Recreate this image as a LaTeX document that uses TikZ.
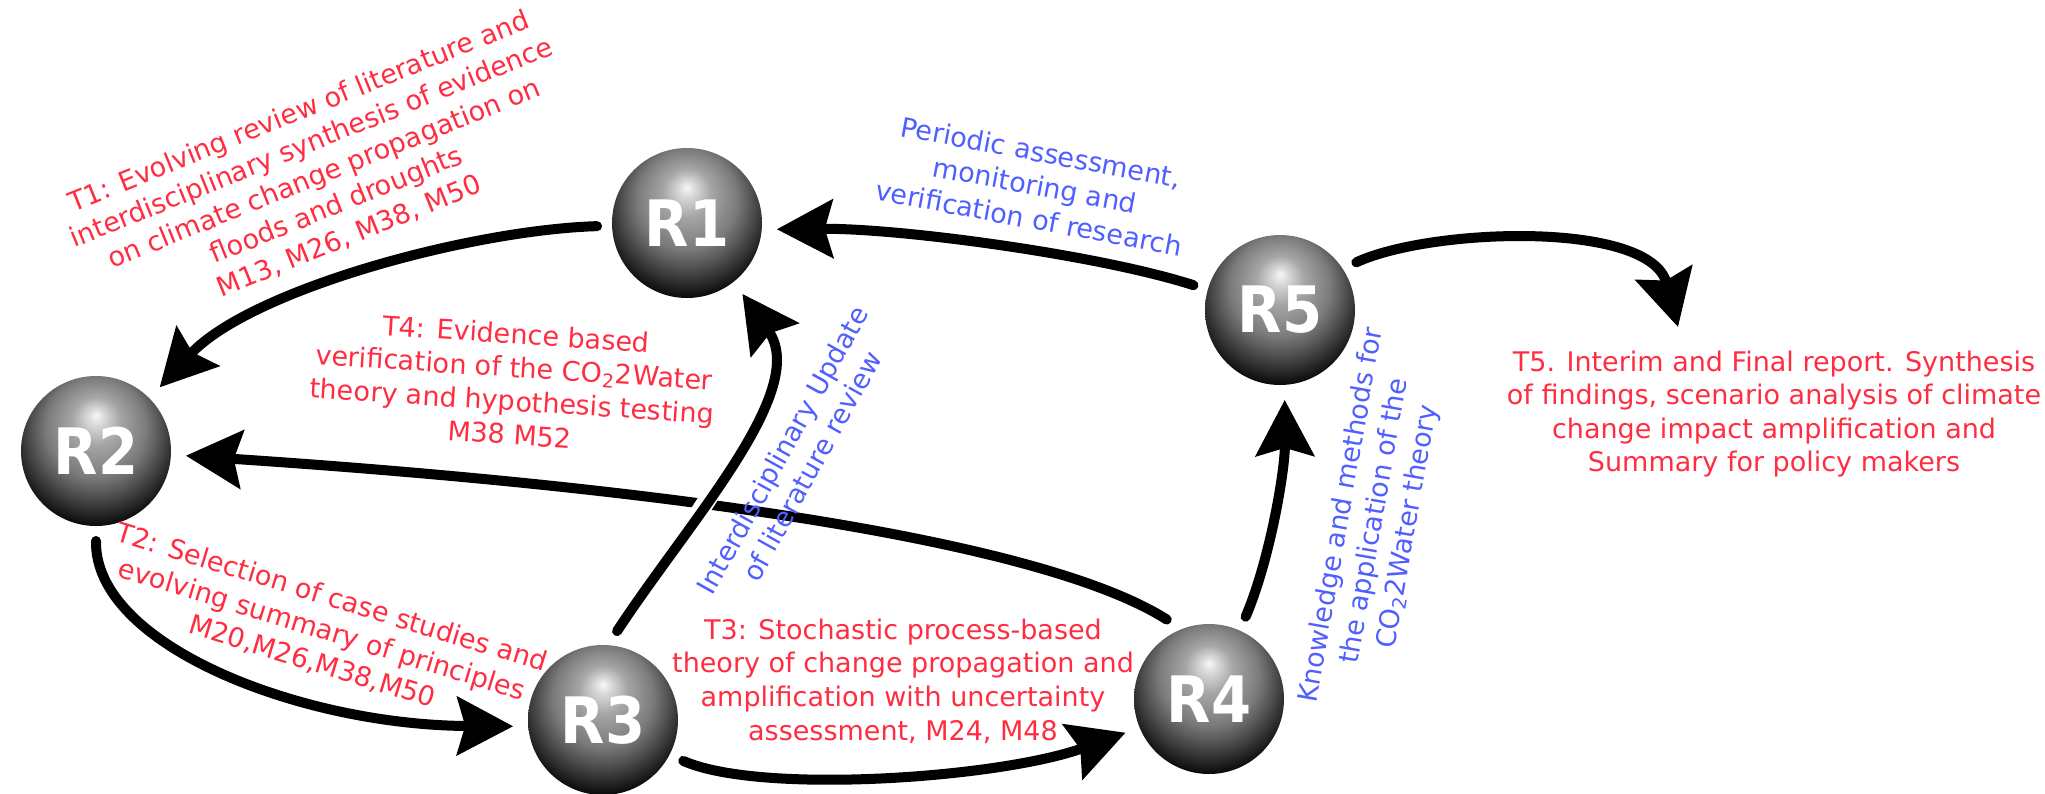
\documentclass[tikz,border=0pt]{standalone}
\usepackage{fontspec}
\setmainfont{DejaVu Sans}
\usepackage{graphicx}
\usetikzlibrary{arrows.meta}
\definecolor{tred}{RGB}{255,45,65}
\definecolor{tblue}{RGB}{80,95,255}
\pgfdeclareradialshading{sphereshade}{\pgfpoint{0bp}{12bp}}{color(0bp)=(black!3); color(2.5bp)=(black!14); color(8bp)=(black!35); color(16.7bp)=(black!52); color(21bp)=(black!66); color(25.7bp)=(black!82); color(30bp)=(black!97); color(50bp)=(black)}
\begin{document}
\begin{tikzpicture}[x=0.5pt,y=-0.5pt,
  sphnode/.style={circle, minimum size=75pt, inner sep=0pt, outer sep=7.5pt, shading=sphereshade, text=white, font=\fontsize{32}{32}\selectfont\bfseries},
  arr/.style={line width=5pt, line cap=round, -{Stealth[length=28pt,width=29pt,inset=4pt]}},
  lbl/.style={align=center, font=\fontsize{13.5}{16.8}\selectfont, inner sep=0pt},
  redlbl/.style={lbl, text=tred},
  bluelbl/.style={lbl, text=tblue}]
\path[use as bounding box, fill=white] (0,0) rectangle (2045,793);

\node[sphnode] (R1) at (687,223) {\scalebox{0.9}[1]{R1}};
\node[sphnode] (R2) at (96,451) {\scalebox{0.9}[1]{R2}};
\node[sphnode] (R3) at (603,720) {\scalebox{0.9}[1]{R3}};
\node[sphnode] (R4) at (1209,699) {\scalebox{0.9}[1]{R4}};
\node[sphnode] (R5) at (1280,310) {\scalebox{0.9}[1]{R5}};

\node[redlbl, rotate=22] (t1) at (324,174) {T1: Evolving review of literature and\\interdisciplinary synthesis of evidence\\on climate change propagation on\\floods and droughts\\M13, M26, M38, M50};
\node[redlbl, rotate=-17] (t2) at (322,630) {T2: Selection of case studies and\\evolving summary of principles\\M20,M26,M38,M50};
\node[redlbl] (t3) at (903,681) {T3: Stochastic process-based\\theory of change propagation and\\amplification with uncertainty\\assessment, M24, M48};
\node[redlbl, rotate=-3.7] (t4) at (513,384) {T4: Evidence based\\verification of the CO\textsubscript{2}2Water\\theory and hypothesis testing\\M38 M52};
\node[redlbl] (t5) at (1774,414) {T5. Interim and Final report. Synthesis\\of findings, scenario analysis of climate\\change impact amplification and\\Summary for policy makers};
\node[bluelbl, rotate=-10.5] (tp) at (1035,185) {Periodic assessment,\\monitoring and\\verification of research};
\node[bluelbl, rotate=80] (tk) at (1375,521) {Knowledge and methods for\\the application of the\\CO\textsubscript{2}2Water theory};

\draw[arr] (R1.182) .. controls (470,230) and (250,290) .. (R2.45);
\draw[arr] (R5.164) .. controls (1100,255) and (900,228) .. (R1.-4);
\draw[arr] (R2.-90) .. controls (94,645) and (300,725) .. (R3.184);
\draw[arr] (R3.-27) .. controls (760,795) and (1000,778) .. (R4.202);
\draw[arr] (R4.118) .. controls (1050,545) and (700,490) .. (R2.-3);
\draw[arr, preaction={draw=white, line width=9pt, line cap=butt, -}] (R3.81) .. controls (690,520) and (810,390) .. (R1.-52);
\draw[arr] (R4.66) .. controls (1270,560) and (1285,470) .. (R5.-87);
\coordinate (t5in) at (1678,327);
\draw[arr] (R5.32) .. controls (1430,228) and (1650,220) .. (t5in);

\node[bluelbl, rotate=61] (ti) at (797,458) {Interdisciplinary Update\\of literature review};
\end{tikzpicture}
\end{document}
